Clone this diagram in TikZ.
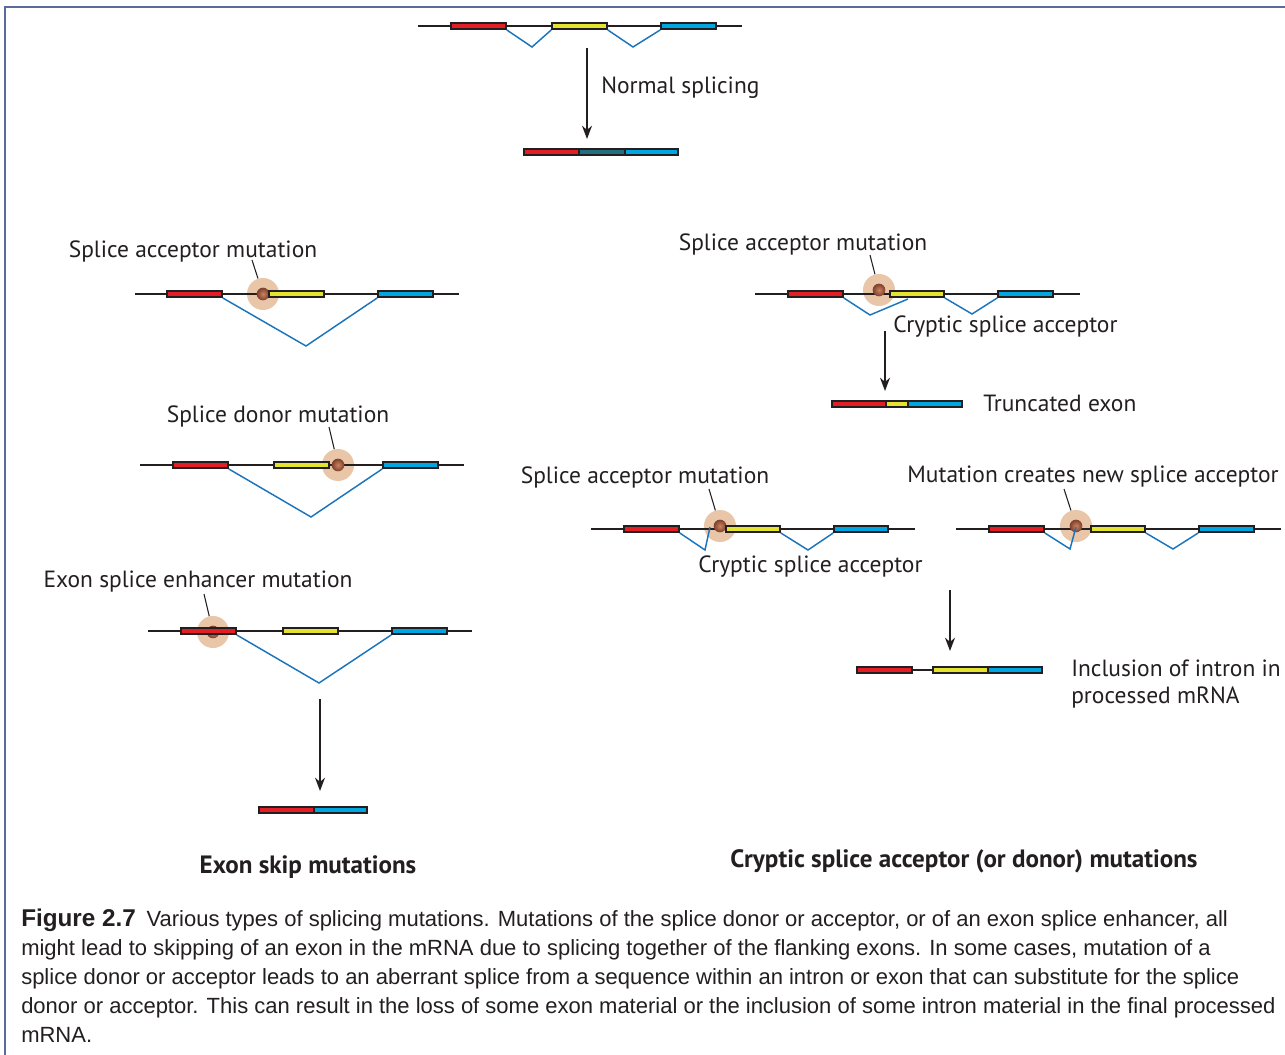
\documentclass[tikz,border=0pt]{standalone}
\usepackage{fontspec}
\setmainfont{PT Sans}
\newfontfamily\capfont{Liberation Sans}
\usetikzlibrary{arrows.meta}
\definecolor{exred}{HTML}{E31E24}
\definecolor{exyel}{HTML}{E4E332}
\definecolor{exblue}{HTML}{00A6E2}
\definecolor{exteal}{HTML}{236F7F}
\definecolor{splblue}{HTML}{1B75BC}
\definecolor{peach}{HTML}{E9C6A8}
\definecolor{dotin}{HTML}{C98462}
\definecolor{dotout}{HTML}{7E3F2B}
\definecolor{bordercol}{HTML}{5B6B9E}
\definecolor{exline}{HTML}{231F20}
\definecolor{captext}{HTML}{231F20}
\tikzset{
  exon/.style={draw=exline, line width=1.1pt, rectangle, inner sep=0pt, minimum height=4.8pt},
  gene/.style={draw=exline, line width=1pt},
  splice/.style={draw=splblue, line width=1.1pt, line join=miter},
  mut/.style={circle, fill=peach, inner sep=0pt, minimum size=24pt},
  mutdot/.style={circle, inner sep=0pt, minimum size=9.5pt, inner color=dotin, outer color=dotout},
  ticker/.style={draw=exline, line width=0.8pt},
  arr/.style={draw=exline, line width=1.1pt, -{Stealth[length=10pt,width=7.5pt]}},
  lbl/.style={font=\fontsize{17.6}{21}\selectfont, text=exline, inner sep=0pt, yshift=-1.5pt},
  ttl/.style={font=\fontsize{18.8}{22}\selectfont\bfseries, text=exline, inner sep=0pt, yshift=-2pt},
  captxt/.style={font=\capfont\fontsize{16.5}{20}\selectfont, text=captext, inner sep=0pt, anchor=base west},
  framestyle/.style={draw=bordercol, line width=1.5pt}
}
\newcommand\exon[5]{\node[exon,fill=#5,minimum width={(#3-#2)*0.75pt}] (#1) at ({(#2+#3)/2},#4) {};}
\begin{document}
\begin{tikzpicture}[x=0.75pt,y=-0.75pt]
\useasboundingbox (0,0) rectangle (1285,1055);
\fill[white] (0,0) rectangle (1285,1055);
% frame
\coordinate (fr-bl) at (5,1055);
\coordinate (fr-tl) at (5,7);
\coordinate (fr-tr) at (1285,7);
\draw[framestyle] (fr-bl) -- (fr-tl) -- (fr-tr);

% ===== Normal splicing =====
\coordinate (n-l) at (418,26); \coordinate (n-r) at (742,26);
\draw[gene] (n-l) -- (n-r);
\exon{n-e1}{451}{506}{26}{exred}
\exon{n-e2}{552}{607}{26}{exyel}
\exon{n-e3}{661}{716}{26}{exblue}
\coordinate (n-v1) at (532,47); \coordinate (n-v2) at (633,47);
\draw[splice] (n-e1.south east) -- (n-v1) -- (n-e2.south west);
\draw[splice] (n-e2.south east) -- (n-v2) -- (n-e3.south west);
\coordinate (n-a1) at (587,48); \coordinate (n-a2) at (587,139);
\draw[arr] (n-a1) -- (n-a2);
\node[lbl, anchor=west] (n-lab) at (601,86) {Normal splicing};
\exon{n-p1}{524}{579}{152}{exred}
\exon{n-p2}{579}{625}{152}{exteal}
\exon{n-p3}{625}{678}{152}{exblue}

% ===== Left: splice acceptor mutation =====
\node[lbl] (a-lab) at (193,249) {Splice acceptor mutation};
\node[mut] (a-m) at (263,294) {};
\coordinate (a-l) at (135,294); \coordinate (a-r) at (459,294);
\draw[gene] (a-l) -- (a-r);
\node[mutdot] (a-d) at (263,294) {};
\exon{a-e1}{167}{222}{294}{exred}
\exon{a-e2}{269}{324}{294}{exyel}
\exon{a-e3}{378}{433}{294}{exblue}
\coordinate (a-t) at (252,260);
\draw[ticker] (a-t) -- (a-m);
\coordinate (a-v) at (306,346);
\draw[splice] (a-e1.south east) -- (a-v) -- (a-e3.south west);

% ===== Left: splice donor mutation =====
\node[lbl] (d-lab) at (278,414) {Splice donor mutation};
\node[mut] (d-m) at (338,465) {};
\coordinate (d-l) at (140,465); \coordinate (d-r) at (464,465);
\draw[gene] (d-l) -- (d-r);
\node[mutdot] (d-d) at (338,465) {};
\exon{d-e1}{173}{228}{465}{exred}
\exon{d-e2}{274}{329}{465}{exyel}
\exon{d-e3}{383}{438}{465}{exblue}
\coordinate (d-t) at (329,427);
\draw[ticker] (d-t) -- (d-m);
\coordinate (d-v) at (311,517);
\draw[splice] (d-e1.south east) -- (d-v) -- (d-e3.south west);

% ===== Left: exon splice enhancer mutation =====
\node[lbl] (x-lab) at (198,580) {Exon splice enhancer mutation};
\node[mut] (x-m) at (213,632) {};
\coordinate (x-l) at (148,631); \coordinate (x-r) at (472,631);
\draw[gene] (x-l) -- (x-r);
\node[mutdot] (x-d) at (213,632) {};
\exon{x-e1}{181}{236}{631}{exred}
\exon{x-e2}{283}{338}{631}{exyel}
\exon{x-e3}{392}{447}{631}{exblue}
\coordinate (x-t) at (204,594);
\draw[ticker] (x-t) -- (x-m);
\coordinate (x-v) at (319,683);
\draw[splice] (x-e1.south east) -- (x-v) -- (x-e3.south west);
\coordinate (x-a1) at (320,699); \coordinate (x-a2) at (320,791);
\draw[arr] (x-a1) -- (x-a2);
\exon{x-p1}{259}{314}{810}{exred}
\exon{x-p2}{314}{367}{810}{exblue}
\node[ttl] (x-ttl) at (308,864) {Exon skip mutations};

% ===== Right top: truncated exon =====
\node[lbl] (t-lab) at (803,242) {Splice acceptor mutation};
\node[mut] (t-m) at (879,290) {};
\coordinate (t-l) at (755,294); \coordinate (t-r) at (1080,294);
\draw[gene] (t-l) -- (t-r);
\node[mutdot] (t-d) at (879,290) {};
\exon{t-e1}{788}{843}{294}{exred}
\exon{t-e2}{890}{944}{294}{exyel}
\exon{t-e3}{998}{1053}{294}{exblue}
\coordinate (t-t) at (870,255);
\draw[ticker] (t-t) -- (t-m);
\coordinate (t-v1) at (870,315); \coordinate (t-c) at (908,299);
\coordinate (t-v2) at (972,314);
\draw[splice] (t-e1.south east) -- (t-v1) -- (t-c);
\draw[splice] (t-e2.south east) -- (t-v2) -- (t-e3.south west);
\node[lbl, anchor=west] (t-cry) at (893,325) {Cryptic splice acceptor};
\coordinate (t-a1) at (885,331); \coordinate (t-a2) at (885,391);
\draw[arr] (t-a1) -- (t-a2);
\exon{t-p1}{832}{886}{404}{exred}
\exon{t-p2}{886}{908}{404}{exyel}
\exon{t-p3}{908}{962}{404}{exblue}
\node[lbl, anchor=west] (t-trunc) at (983,401) {Truncated exon};

% ===== Right middle: cryptic acceptor in intron =====
\node[lbl] (c-lab) at (645,475) {Splice acceptor mutation};
\node[mut] (c-m) at (720,526) {};
\coordinate (c-l) at (591,529); \coordinate (c-r) at (915,529);
\draw[gene] (c-l) -- (c-r);
\node[mutdot] (c-d) at (720,526) {};
\exon{c-e1}{624}{679}{529}{exred}
\exon{c-e2}{726}{780}{529}{exyel}
\exon{c-e3}{834}{888}{529}{exblue}
\coordinate (c-t) at (709,489);
\draw[ticker] (c-t) -- (c-m);
\coordinate (c-v1) at (705,550); \coordinate (c-c) at (710,527);
\coordinate (c-v2) at (808,550);
\draw[splice] (c-e1.south east) -- (c-v1) -- (c-c);
\draw[splice] (c-e2.south east) -- (c-v2) -- (c-e3.south west);
\node[lbl, anchor=west] (c-cry) at (698,565) {Cryptic splice acceptor};

% ===== Right middle: new splice acceptor =====
\node[lbl] (s-lab) at (1093,475) {Mutation creates new splice acceptor};
\node[mut] (s-m) at (1076,526) {};
\coordinate (s-l) at (956,529); \coordinate (s-r) at (1281,529);
\draw[gene] (s-l) -- (s-r);
\node[mutdot] (s-d) at (1076,526) {};
\exon{s-e1}{989}{1044}{529}{exred}
\exon{s-e2}{1091}{1145}{529}{exyel}
\exon{s-e3}{1199}{1254}{529}{exblue}
\coordinate (s-t) at (1064,489);
\draw[ticker] (s-t) -- (s-m);
\coordinate (s-v1) at (1070,549); \coordinate (s-c) at (1076,527);
\coordinate (s-v2) at (1173,549);
\draw[splice] (s-e1.south east) -- (s-v1) -- (s-c);
\draw[splice] (s-e2.south east) -- (s-v2) -- (s-e3.south west);

\coordinate (s-a1) at (950,590); \coordinate (s-a2) at (950,651);
\draw[arr] (s-a1) -- (s-a2);
\exon{s-p1}{857}{912}{670}{exred}
\exon{s-p2}{933}{988}{670}{exyel}
\exon{s-p3}{988}{1042}{670}{exblue}
\draw[gene] (s-p1.east) -- (s-p2.west);
\node[lbl, anchor=west] (s-inc1) at (1071,666) {Inclusion of intron in};
\node[lbl, anchor=west] (s-inc2) at (1071,696) {processed mRNA};
\node[ttl] (c-ttl) at (964,859) {Cryptic splice acceptor (or donor) mutations};

% ===== Caption =====
\node[captxt] (cap1) at (21,926) {{\fontsize{18.2}{21}\selectfont\bfseries Figure 2.7}\hspace{8pt}Various types of splicing mutations. Mutations of the splice donor or acceptor, or of an exon splice enhancer, all};
\node[captxt] (cap2) at (21,955) {might lead to skipping of an exon in the mRNA due to splicing together of the flanking exons. In some cases, mutation of a};
\node[captxt] (cap3) at (21,984) {splice donor or acceptor leads to an aberrant splice from a sequence within an intron or exon that can substitute for the splice};
\node[captxt] (cap4) at (21,1013) {donor or acceptor. This can result in the loss of some exon material or the inclusion of some intron material in the final processed};
\node[captxt] (cap5) at (21,1042) {mRNA.};
\end{tikzpicture}
\end{document}
